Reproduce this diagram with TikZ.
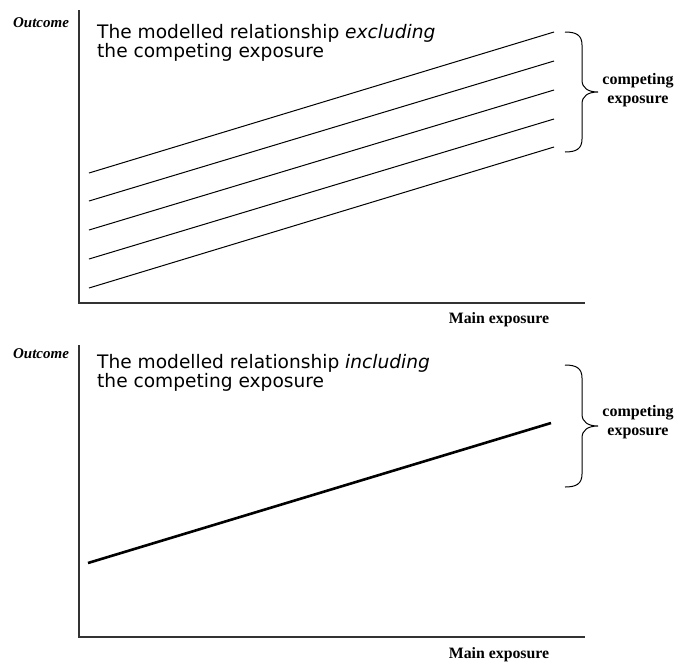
\documentclass[tikz,border=0pt]{standalone}
\usepackage{fontspec}
\setmainfont{Liberation Serif}
\newfontfamily\verdanalike{DejaVu Sans}
\begin{document}
\begin{tikzpicture}[x=1pt,y=-1pt,
  axis/.style={line width=1.2pt, draw=black!80},
  trend/.style={line width=1pt},
  boldtrend/.style={line width=2.6pt},
  bracepath/.style={line width=1pt},
  axlabel/.style={font=\fontsize{15}{17}\selectfont\bfseries\itshape, inner sep=0pt},
  xlabel/.style={font=\fontsize{15.8}{17}\selectfont\bfseries, inner sep=0pt},
  title/.style={font=\verdanalike\fontsize{18.6}{19}\selectfont, align=left, inner sep=0pt, anchor=north west},
  bracetext/.style={font=\fontsize{16}{18.5}\selectfont\bfseries, align=center, inner sep=0pt}]
\useasboundingbox (0,0) rectangle (685,662);

% ---------- upper panel: separate lines per level ----------
\coordinate (ya1) at (79,10);
\coordinate (o1) at (79,303);
\coordinate (xa1) at (585,303);
\draw[axis] (ya1) -- (o1) -- (xa1);
\node[axlabel] (out1) at (41,23) {Outcome};
\node[xlabel] (main1) at (499,320) {Main exposure};
\node[title] (t1) at (97,24) {The modelled relationship \textit{excluding}\\the competing exposure};

\foreach \i/\yl/\yr in {1/173/32, 2/201/61, 3/230/90, 4/259/119, 5/288/147} {
  \coordinate (l\i) at (89,\yl);
  \coordinate (r\i) at (554,\yr);
  \draw[trend] (l\i) -- (r\i);
}

% brace
\coordinate (b1top) at (565,32);
\coordinate (b1tip) at (598,92);
\coordinate (b1bot) at (565,152);
\draw[bracepath] (b1top) .. controls (576,32) and (582,35) .. (582,45)
  -- (582,80) .. controls (582,88) and (588,92) .. (b1tip)
  .. controls (588,92) and (582,96) .. (582,104)
  -- (582,139) .. controls (582,149) and (576,152) .. (b1bot);
\node[bracetext] (c1) at (638,90) {competing\\exposure};

% ---------- lower panel: single adjusted line ----------
\coordinate (ya2) at (79,345);
\coordinate (o2) at (79,637);
\coordinate (xa2) at (585,637);
\draw[axis] (ya2) -- (o2) -- (xa2);
\node[axlabel] (out2) at (41,354) {Outcome};
\node[xlabel] (main2) at (499,655) {Main exposure};
\node[title] (t2) at (97,354) {The modelled relationship \textit{including}\\the competing exposure};

\coordinate (m1) at (88,563);
\coordinate (m2) at (551,423);
\draw[boldtrend] (m1) -- (m2);

\coordinate (b2top) at (565,365);
\coordinate (b2tip) at (598,426);
\coordinate (b2bot) at (565,487);
\draw[bracepath] (b2top) .. controls (576,365) and (582,368) .. (582,378)
  -- (582,414) .. controls (582,422) and (588,426) .. (b2tip)
  .. controls (588,426) and (582,430) .. (582,438)
  -- (582,474) .. controls (582,484) and (576,487) .. (b2bot);
\node[bracetext] (c2) at (638,422) {competing\\exposure};
\end{tikzpicture}
\end{document}
